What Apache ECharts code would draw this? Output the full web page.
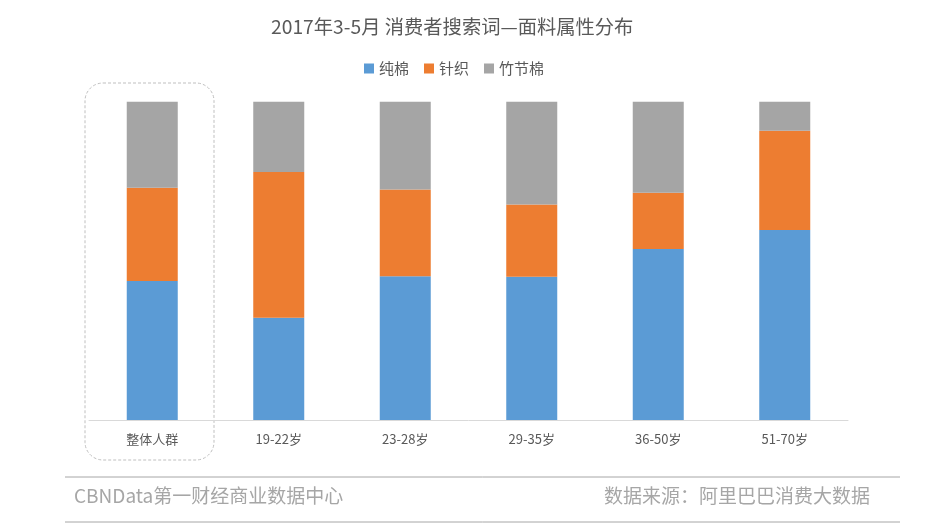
<!DOCTYPE html>
<html><head><meta charset="utf-8">
<script src="https://cdn.jsdelivr.net/npm/echarts@6/dist/echarts.min.js"></script>
<style>html,body{margin:0;padding:0;background:#fff;}#c{width:947px;height:526px;}</style>
</head><body><div id="c"></div>
<script>
const categories = ['整体人群','19-22岁','23-28岁','29-35岁','36-50岁','51-70岁'];
const seriesNames = ['纯棉','针织','竹节棉'];
const cotton = [43.7, 32.1, 45.2, 45.0, 53.7, 59.7];
const knit = [29.3, 45.8, 27.2, 22.7, 17.7, 31.2];
const slub = [27.0, 22.1, 27.6, 32.3, 28.6, 9.1];
const colors = ['#5B9BD5','#ED7D31','#A5A5A5'];
const FF = '"Noto Sans CJK SC","Microsoft YaHei",sans-serif';

const chart = echarts.init(document.getElementById('c'));
const mk = (name, data, i) => ({
  name, type:'bar', stack:'s', data, barWidth:51,
  itemStyle:{color:colors[i]}, emphasis:{disabled:true}
});
chart.setOption({
  animation:false,
  textStyle:{fontFamily:FF},
  title:{text:'2017年3-5月 消费者搜索词—面料属性分布', left:266, top:12,
    textStyle:{fontSize:19.3, fontWeight:'normal', color:'#595959', fontFamily:FF}},
  legend:{top:56, left:359, itemWidth:10, itemHeight:10, itemGap:15,
    icon:'rect', data:seriesNames,
    textStyle:{fontSize:15, color:'#595959', fontFamily:FF}},
  grid:{left:89, right:99, top:101.7, bottom:106, containLabel:false},
  xAxis:{type:'category', data:categories,
    axisLine:{lineStyle:{color:'#D9D9D9'}}, axisTick:{show:false},
    axisLabel:{fontSize:13, color:'#595959', margin:13, fontFamily:FF}},
  yAxis:{type:'value', min:0, max:100, show:false, splitLine:{show:false}},
  series:[mk(seriesNames[0],cotton,0), mk(seriesNames[1],knit,1), mk(seriesNames[2],slub,2)],
  graphic:[
    {type:'rect', shape:{x:85, y:83, width:129, height:377, r:18}, silent:true,
      style:{fill:null, stroke:'#BFBFBF', lineWidth:1, lineDash:[3,2]}},
    {type:'line', shape:{x1:65, y1:477, x2:900, y2:477}, silent:true, style:{stroke:'#A6A6A6', lineWidth:1}},
    {type:'line', shape:{x1:65, y1:522, x2:900, y2:522}, silent:true, style:{stroke:'#A6A6A6', lineWidth:1}},
    {type:'text', left:74, top:486, silent:true,
      style:{text:'CBNData第一财经商业数据中心', fontSize:19, fill:'#A6A6A6', fontFamily:FF}},
    {type:'text', right:77, top:486, silent:true,
      style:{text:'数据来源：阿里巴巴消费大数据', fontSize:19, fill:'#A6A6A6', fontFamily:FF}}
  ]
});
</script></body></html>
